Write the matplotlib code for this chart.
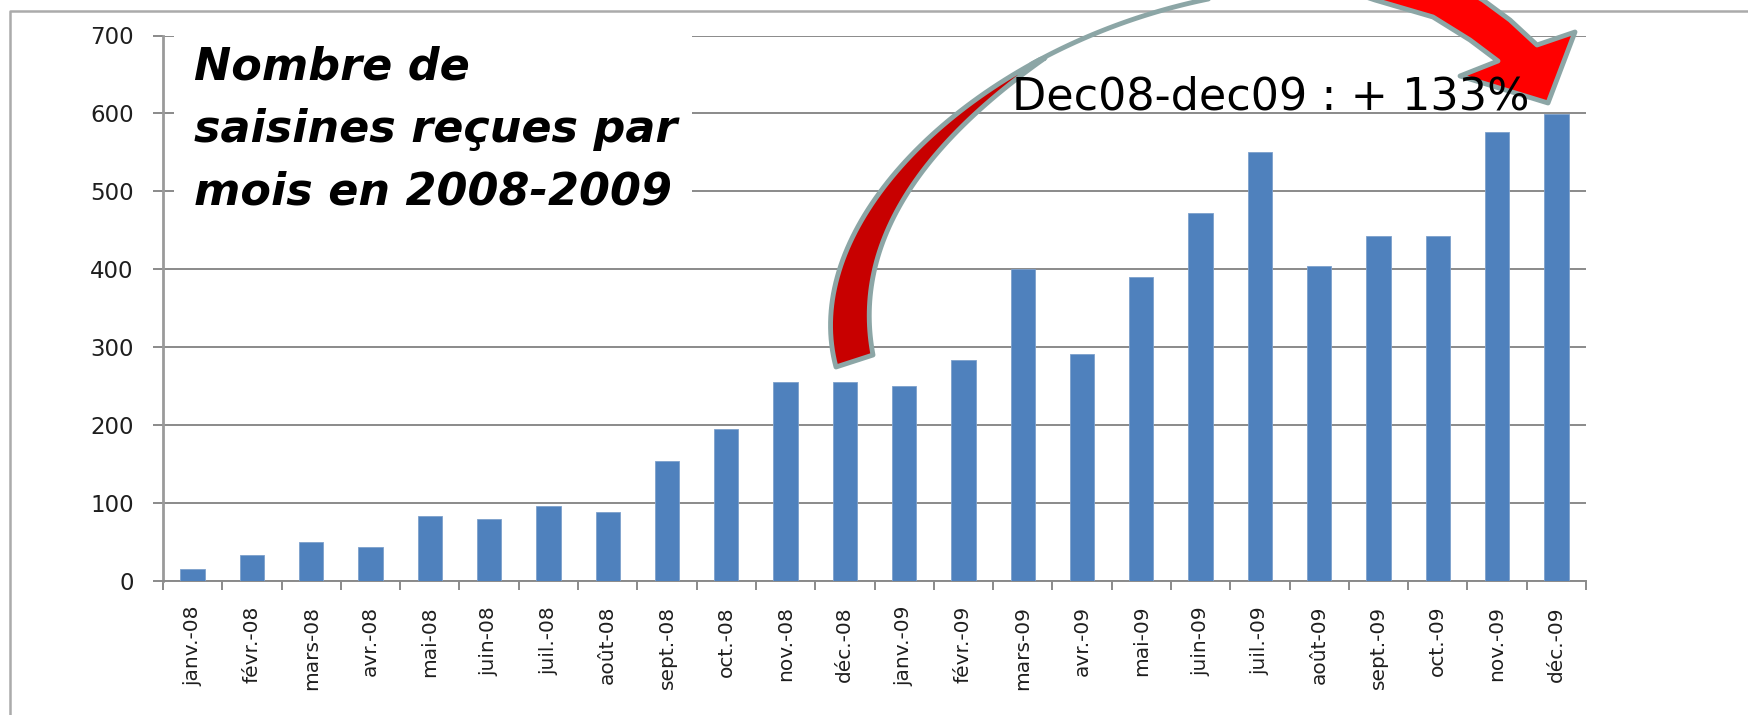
import matplotlib
matplotlib.use("Agg")
import numpy as np
import matplotlib.pyplot as plt
from matplotlib.patches import Polygon, Rectangle
from matplotlib.lines import Line2D

# monthly values (Nombre de saisines reçues)
months = [
    "janv.-08", "févr.-08", "mars-08", "avr.-08", "mai-08", "juin-08",
    "juil.-08", "août-08", "sept.-08", "oct.-08", "nov.-08", "déc.-08",
    "janv.-09", "févr.-09", "mars-09", "avr.-09", "mai-09", "juin-09",
    "juil.-09", "août-09", "sept.-09", "oct.-09", "nov.-09", "déc.-09",
]
saisines = [15, 33, 50, 43, 84, 79, 96, 89, 154, 195, 255, 255,
            250, 284, 400, 291, 390, 472, 551, 404, 443, 443, 576, 599]
y_ticks = [0, 100, 200, 300, 400, 500, 600, 700]

title = "Nombre de\nsaisines reçues par\nmois en 2008-2009"
note = "Dec08-dec09 : + 133%"

W, H = 1748, 715
GRID = "#8a8a8a"
OUTLINE = "#8ca6a6"


def px(x, y):
    # reference pixel (top-left origin) -> figure fraction
    return (x / W, 1 - y / H)


def bezier(p0, p1, p2, p3, t0=0.0, t1=1.0, n=60):
    t = np.linspace(t0, t1, n)[:, None]
    pts = ((1 - t) ** 3 * np.array(p0) + 3 * (1 - t) ** 2 * t * np.array(p1)
           + 3 * (1 - t) * t ** 2 * np.array(p2) + t ** 3 * np.array(p3))
    return [px(x, y) for x, y in pts]


fig = plt.figure(figsize=(W / 100, H / 100), dpi=100)
ax = fig.add_axes([163 / W, 1 - 581 / H, (1586 - 163) / W, (581 - 35.5) / H])

xs = list(range(len(months)))
ax.bar(xs, saisines, width=0.41, color="#4f81bd", edgecolor="#7da0cc",
       linewidth=0.6, zorder=3)

ax.set_xlim(-0.5, len(months) - 0.5)
ax.set_ylim(0, 700)
ax.set_yticks(y_ticks)
ax.set_xticks(xs)
ax.set_xticklabels(months, rotation=90, ha="center", va="top")
ax.set_xticks([i - 0.5 for i in range(len(months) + 1)], minor=True)

ax.yaxis.grid(True, color=GRID, linewidth=1.4)
ax.set_axisbelow(True)
for side in ("top", "right"):
    ax.spines[side].set_visible(False)
ax.spines["left"].set_color("#9a9a9a")
ax.spines["left"].set_linewidth(2)
ax.spines["bottom"].set_color(GRID)
ax.spines["bottom"].set_linewidth(1.4)

ax.tick_params(axis="y", length=7, width=1.4, color=GRID, pad=14,
               labelsize=16.5, labelcolor="#1e1e1e")
ax.tick_params(axis="x", which="major", length=0, pad=18,
               labelsize=14.5, labelcolor="#1e1e1e")
ax.tick_params(axis="x", which="minor", length=6.5, width=1.4, color=GRID)

# outer frame (only left and top edges fall inside the picture)
fig.add_artist(Line2D([10 / W, 10 / W, 1.0], [0.0, 1 - 10.7 / H, 1 - 10.7 / H],
                      transform=fig.transFigure, color="#ababab", lw=1.8))

# white box behind the title
x0, y0 = px(174, 250)
x1, y1 = px(692, 22)
fig.add_artist(Rectangle((x0, y0), x1 - x0, y1 - y0, transform=fig.transFigure,
                         facecolor="white", edgecolor="none", zorder=2))
# multi-line baseline alignment uses the last line
fig.text(*px(194, 205), title, fontsize=32, fontweight="bold", style="italic",
         ha="left", va="baseline", linespacing=1.58, zorder=3)

# curved arrow, in reference pixels
outer = [(836, 367), (795, 215), (990, 35), (1230, -5)]
inner = [(873, 355), (855, 260), (900, 160), (1045, 58)]
left_band = bezier(*outer, 0.0, 0.715) + bezier(*inner)[::-1]
right_part = [(1440, -25), (1483, 0), (1510, 20), (1537, 45),
              (1575, 32), (1548, 103), (1460, 76), (1498, 61), (1470, 40),
              (1433, 17), (1375, 0), (1330, -15)]

fig.add_artist(Polygon(left_band, closed=True, transform=fig.transFigure,
                       facecolor="#c80000", edgecolor=OUTLINE, linewidth=3.5,
                       joinstyle="round", zorder=4))
top_edge = bezier(*outer, 0.7, 1.05)
fig.add_artist(Line2D([p[0] for p in top_edge], [p[1] for p in top_edge],
                      transform=fig.transFigure, color=OUTLINE, lw=3.5,
                      solid_capstyle="round", zorder=4))
fig.add_artist(Polygon([px(*p) for p in right_part], closed=True,
                       transform=fig.transFigure, facecolor="#ff0000",
                       edgecolor=OUTLINE, linewidth=3.5, joinstyle="round",
                       zorder=4))

fig.text(*px(1012, 110), note, fontsize=32, ha="left", va="baseline", zorder=5)

fig.savefig("out.png", dpi=100)
